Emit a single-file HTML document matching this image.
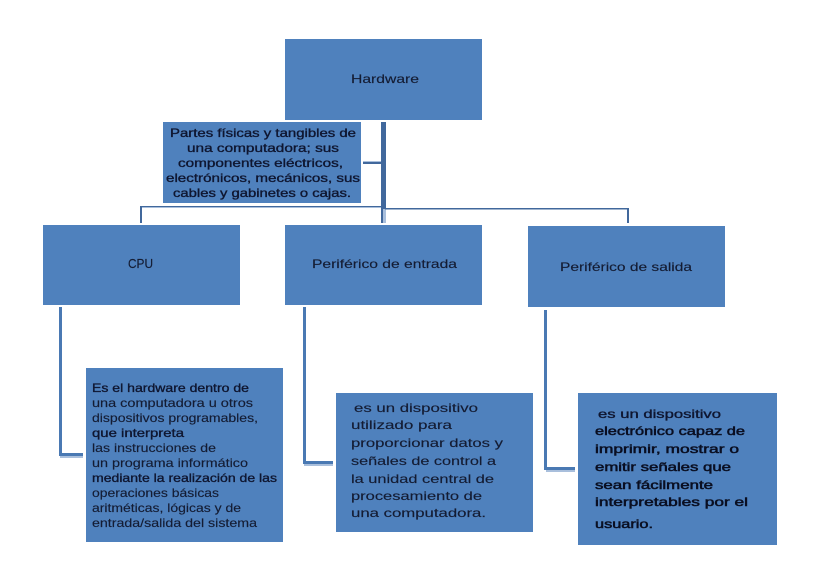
<!DOCTYPE html>
<html><head><meta charset="utf-8"><style>
html,body{margin:0;padding:0;background:#fff}
svg{display:block}
text{font-family:"Liberation Sans",sans-serif;font-size:12px;fill:#141c33;stroke:#141c33;stroke-width:.15px}
text.m{fill:#0f1630;stroke:#0f1630;stroke-width:.35px}
text.b{fill:#0a0f22;stroke:#0a0f22;stroke-width:.5px}
</style></head><body>
<svg width="819" height="561" viewBox="0 0 819 561" xmlns="http://www.w3.org/2000/svg">
<rect width="819" height="561" fill="#fff"/>
<g fill="#4f81bd">
<rect x="285" y="39" width="197" height="81"/>
<rect x="163" y="122" width="198" height="81"/>
<rect x="43" y="225" width="197" height="80"/>
<rect x="285" y="225" width="197" height="80"/>
<rect x="528" y="226" width="197" height="81"/>
<rect x="86" y="368" width="197" height="174"/>
<rect x="336" y="393" width="197" height="139"/>
<rect x="578" y="393" width="199" height="152"/>
</g>
<g fill="#a9bfdc">
<rect x="140" y="206" width="243" height="2"/>
<rect x="381" y="209" width="5" height="14"/>
<rect x="363" y="161" width="18" height="1.5"/>
<rect x="60" y="456" width="23" height="2"/>
<rect x="304" y="464" width="29" height="2"/>
<rect x="546" y="470" width="29" height="2"/>
</g>
<g fill="#41689c">
<rect x="381" y="122" width="5" height="87"/>
<rect x="381" y="209" width="2" height="14"/>
<rect x="140" y="206" width="2" height="17"/>
<rect x="140" y="206" width="241" height="1"/>
<rect x="385" y="208" width="243" height="1.5"/>
<rect x="627" y="208" width="2" height="15"/>
<rect x="363" y="162" width="18" height="2"/>
</g>
<g fill="#4a79b3">
<rect x="59" y="307" width="3" height="148"/>
<rect x="59" y="453" width="24" height="3"/>
<rect x="303" y="307" width="3" height="157"/>
<rect x="303" y="461" width="30" height="3"/>
<rect x="544" y="310" width="3" height="159"/>
<rect x="544" y="467" width="31" height="3"/>
</g>

<text x="351" y="83" textLength="68" lengthAdjust="spacingAndGlyphs">Hardware</text>
<text x="128" y="268" textLength="25" lengthAdjust="spacingAndGlyphs" style="font-size:13px">CPU</text>
<text x="312" y="268" textLength="145" lengthAdjust="spacingAndGlyphs">Periférico de entrada</text>
<text x="560" y="271" textLength="132" lengthAdjust="spacingAndGlyphs">Periférico de salida</text>

<text class="m" x="170" y="137" textLength="186" lengthAdjust="spacingAndGlyphs">Partes físicas y tangibles de</text>
<text class="m" x="187" y="152" textLength="152" lengthAdjust="spacingAndGlyphs">una computadora; sus</text>
<text class="m" x="178" y="167" textLength="165" lengthAdjust="spacingAndGlyphs">componentes eléctricos,</text>
<text class="m" x="166" y="182" textLength="194" lengthAdjust="spacingAndGlyphs">electrónicos, mecánicos, sus</text>
<text class="m" x="173" y="197" textLength="178" lengthAdjust="spacingAndGlyphs">cables y gabinetes o cajas.</text>

<text class="m" x="92" y="392" textLength="157" lengthAdjust="spacingAndGlyphs">Es el hardware dentro de</text>
<text x="92" y="407" textLength="161" lengthAdjust="spacingAndGlyphs">una computadora u otros</text>
<text x="92" y="422" textLength="166" lengthAdjust="spacingAndGlyphs">dispositivos programables,</text>
<text class="m" x="92" y="437" textLength="92" lengthAdjust="spacingAndGlyphs">que interpreta</text>
<text x="92" y="452" textLength="124" lengthAdjust="spacingAndGlyphs">las instrucciones de</text>
<text x="92" y="467" textLength="156" lengthAdjust="spacingAndGlyphs">un programa informático</text>
<text class="m" x="92" y="482" textLength="185" lengthAdjust="spacingAndGlyphs">mediante la realización de las</text>
<text x="92" y="497" textLength="127" lengthAdjust="spacingAndGlyphs">operaciones básicas</text>
<text x="92" y="512" textLength="149" lengthAdjust="spacingAndGlyphs">aritméticas, lógicas y de</text>
<text x="92" y="527" textLength="165" lengthAdjust="spacingAndGlyphs">entrada/salida del sistema</text>

<text x="354" y="412" textLength="124" lengthAdjust="spacingAndGlyphs">es un dispositivo</text>
<text x="351" y="429" textLength="101" lengthAdjust="spacingAndGlyphs">utilizado para</text>
<text x="351" y="447" textLength="152" lengthAdjust="spacingAndGlyphs">proporcionar datos y</text>
<text x="351" y="465" textLength="145" lengthAdjust="spacingAndGlyphs">señales de control a</text>
<text x="351" y="483" textLength="143" lengthAdjust="spacingAndGlyphs">la unidad central de</text>
<text x="351" y="500" textLength="131" lengthAdjust="spacingAndGlyphs">procesamiento de</text>
<text x="351" y="517" textLength="135" lengthAdjust="spacingAndGlyphs">una computadora.</text>

<text class="m" x="598" y="418" textLength="123" lengthAdjust="spacingAndGlyphs">es un dispositivo</text>
<text class="b" x="595" y="435" textLength="150" lengthAdjust="spacingAndGlyphs">electrónico capaz de</text>
<text class="b" x="595" y="453" textLength="144" lengthAdjust="spacingAndGlyphs">imprimir, mostrar o</text>
<text class="b" x="595" y="471" textLength="136" lengthAdjust="spacingAndGlyphs">emitir señales que</text>
<text class="b" x="595" y="489" textLength="118" lengthAdjust="spacingAndGlyphs">sean fácilmente</text>
<text class="b" x="595" y="506" textLength="153" lengthAdjust="spacingAndGlyphs">interpretables por el</text>
<text class="b" x="595" y="528" textLength="58" lengthAdjust="spacingAndGlyphs">usuario.</text>
</svg>
</body></html>
